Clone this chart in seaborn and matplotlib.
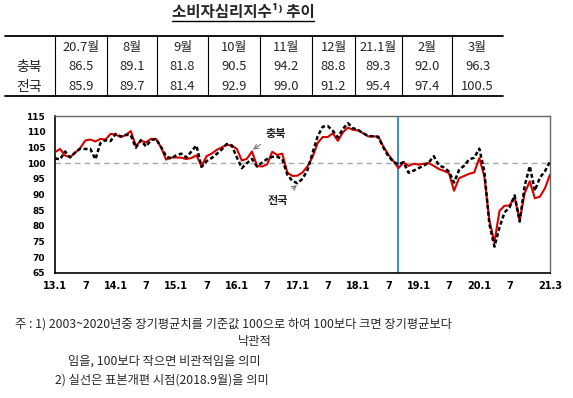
import numpy as np
import pandas as pd
import matplotlib
matplotlib.use("Agg")
import matplotlib.pyplot as plt
import seaborn as sns
from matplotlib.lines import Line2D

# ---------------- data ----------------
# monthly index: 2013.1 ... 2021.3 (99 months)
chungbuk = [
    103.5, 104.5, 102.4, 101.9, 103.3, 104.8, 107.2, 107.5, 106.9, 107.7, 107.5, 109.3,   # 2013
    109.1, 108.3, 108.9, 110.2, 105.5, 107.1, 106.6, 107.7, 107.7, 105.0, 101.1, 101.8,   # 2014
    101.8, 101.7, 101.3, 101.6, 102.5, 99.0, 102.2, 103.0, 104.2, 105.0, 105.8, 105.6,     # 2015
    104.5, 100.8, 101.4, 103.7, 99.1, 98.9, 99.6, 103.6, 102.6, 103.0, 97.0, 95.9,         # 2016
    96.0, 97.0, 99.0, 102.0, 106.4, 108.3, 108.3, 109.5, 107.1, 109.8, 111.3, 110.6,       # 2017
    110.4, 109.5, 108.5, 108.5, 108.5, 105.3, 102.7, 100.6, 98.4, 100.2, 99.1, 99.8,       # 2018
    99.5, 99.8, 100.0, 99.1, 98.1, 97.5, 96.8, 91.2, 95.2, 95.9, 96.6, 97.0,               # 2019
    101.6, 95.8, 81.6, 74.8, 84.8, 86.4, 86.5, 89.1, 81.8, 90.5, 94.2, 88.8,               # 2020
    89.3, 92.0, 96.3,                                                                       # 2021
]
national = [
    101.5, 101.2, 103.7, 101.8, 103.4, 104.6, 104.5, 104.5, 101.2, 106.4, 107.3, 107.0,   # 2013
    109.3, 108.5, 109.0, 108.9, 104.9, 107.3, 105.3, 107.3, 107.7, 105.1, 102.2, 101.4,   # 2014
    102.5, 103.0, 101.8, 103.7, 105.6, 98.8, 100.6, 101.6, 102.9, 104.3, 106.1, 105.6,     # 2015
    101.8, 98.4, 100.0, 101.3, 98.9, 100.2, 101.3, 102.0, 102.0, 101.3, 96.3, 94.3,        # 2016
    93.6, 95.0, 97.8, 103.3, 108.5, 111.6, 111.8, 110.3, 108.2, 110.9, 112.7, 111.1,       # 2017
    110.6, 109.5, 108.7, 108.5, 108.3, 105.0, 102.2, 100.4, 99.6, 100.3, 96.9, 97.6,       # 2018
    98.4, 99.2, 100.2, 102.2, 99.3, 98.6, 97.3, 93.8, 97.8, 99.2, 101.2, 101.7,            # 2019
    104.6, 97.4, 80.6, 73.4, 79.5, 84.3, 85.9, 89.7, 81.4, 92.9, 99.0, 91.2,               # 2020
    95.4, 97.4, 100.5,                                                                      # 2021
]
month_index = list(range(len(chungbuk)))

table_cols = ["20.7월", "8월", "9월", "10월", "11월", "12월", "21.1월", "2월", "3월"]
table_rows = ["충북", "전국"]
table_cb = ["86.5", "89.1", "81.8", "90.5", "94.2", "88.8", "89.3", "92.0", "96.3"]
table_nat = ["85.9", "89.7", "81.4", "92.9", "99.0", "91.2", "95.4", "97.4", "100.5"]

xtick_pos = [0, 6, 12, 18, 24, 30, 36, 42, 48, 54, 60, 66, 72, 78, 84, 90, 98]
xtick_labels = ["13.1", "7", "14.1", "7", "15.1", "7", "16.1", "7", "17.1", "7",
                "18.1", "7", "19.1", "7", "20.1", "7", "21.3"]
yticks = [65, 70, 75, 80, 85, 90, 95, 100, 105, 110, 115]
reform_month = 68      # 2018.9
base_value = 100

title = "소비자심리지수¹⁾ 추이"
notes = [
    "주 : 1) 2003~2020년중 장기평균치를 기준값 100으로 하여 100보다 크면 장기평균보다",
    "낙관적",
    "임을, 100보다 작으면 비관적임을 의미",
    "2) 실선은 표본개편 시점(2018.9월)을 의미",
]

# ---------------- style ----------------
sns.set_style("white")
plt.rcParams['font.family'] = ['Noto Sans CJK KR', 'DejaVu Sans']

W, H = 573, 398
fig = plt.figure(figsize=(W / 100, H / 100), dpi=100)
fig.patch.set_facecolor("white")

def fx(px):
    return px / W

def fy(py):
    return 1 - py / H

# title
fig.text(fx(243), fy(11.5), title, ha='center', va='center', fontsize=11.2,
         fontweight='bold')
fig.add_artist(Line2D([fx(172), fx(314)], [fy(21), fy(21)], color='black', lw=1))

# table
tbl_top, tbl_bot = 36, 96
fig.add_artist(Line2D([fx(5), fx(503)], [fy(tbl_top), fy(tbl_top)], color='black', lw=1.3))
fig.add_artist(Line2D([fx(5), fx(503)], [fy(tbl_bot), fy(tbl_bot)], color='black', lw=1.3))
vlines = [55, 107, 157, 208, 260, 312, 355, 402, 452]
for vx in vlines:
    fig.add_artist(Line2D([fx(vx), fx(vx)], [fy(tbl_top), fy(tbl_bot)], color='black', lw=0.8))
col_edges = vlines + [503]
row_y = [47, 67, 87]
for i, col in enumerate(table_cols):
    cx = (col_edges[i] + col_edges[i + 1]) / 2
    fig.text(fx(cx), fy(row_y[0]), col, ha='center', va='center', fontsize=9.3)
    fig.text(fx(cx), fy(row_y[1]), table_cb[i], ha='center', va='center', fontsize=9.3)
    fig.text(fx(cx), fy(row_y[2]), table_nat[i], ha='center', va='center', fontsize=9.3)
for r, name in enumerate(table_rows):
    fig.text(fx(29), fy(row_y[r + 1]), name, ha='center', va='center', fontsize=10)

# chart
ax = fig.add_axes([fx(55), fy(273), fx(550) - fx(55), (273 - 116) / H])
df = pd.DataFrame({"m": month_index, "충북": chungbuk, "전국": national})
ax.axhline(base_value, color='#a8a8a8', lw=1.0, ls=(0, (4, 3)), zorder=1)
ax.axvline(reform_month, color='#2b7fd2', lw=1.3, zorder=2)
sns.lineplot(data=df, x="m", y="충북", ax=ax, color='#d40000', lw=1.5, zorder=3)
sns.lineplot(data=df, x="m", y="전국", ax=ax, color='black', lw=1.8,
             linestyle=(0, (1.6, 1.0)), zorder=4)
ax.set_xlim(0, 98)
ax.set_ylim(65, 115)
ax.set_xlabel("")
ax.set_ylabel("")
ax.set_xticks(xtick_pos)
ax.set_xticklabels(xtick_labels, fontsize=7, fontweight='bold', family='DejaVu Sans')
ax.set_yticks(yticks)
ax.set_yticklabels([str(v) for v in yticks], fontsize=6.5, fontweight='bold',
                   family='DejaVu Sans')
ax.tick_params(direction='in', length=3, width=0.8, colors='#222222')
ax.tick_params(axis='x', pad=6, labelcolor='black')
ax.tick_params(axis='y', pad=7, labelcolor='black')
for side in ['left', 'bottom']:
    ax.spines[side].set_color('black')
    ax.spines[side].set_linewidth(1.2)
for side in ['top', 'right']:
    ax.spines[side].set_color('#666666')
    ax.spines[side].set_linewidth(1.0)

ax.annotate("충북", xy=(39.2, 104.3), xytext=(43.8, 109.4), ha='center', va='center',
            fontsize=8, fontweight='bold', color='#222222',
            arrowprops=dict(arrowstyle='->', color='#777777', lw=0.8, shrinkA=2, shrinkB=0))
ax.annotate("전국", xy=(47.9, 93.0), xytext=(44.2, 88.2), ha='center', va='center',
            fontsize=8, fontweight='bold', color='#222222',
            arrowprops=dict(arrowstyle='->', color='#777777', lw=0.8, shrinkA=2, shrinkB=0))

# notes
fig.text(fx(15), fy(324), notes[0], ha='left', va='center', fontsize=8.8)
fig.text(fx(255), fy(342), notes[1], ha='center', va='center', fontsize=8.8)
fig.text(fx(68), fy(361), notes[2], ha='left', va='center', fontsize=8.8)
fig.text(fx(55), fy(380), notes[3], ha='left', va='center', fontsize=8.8)

fig.savefig("out.png", dpi=100, facecolor='white')
